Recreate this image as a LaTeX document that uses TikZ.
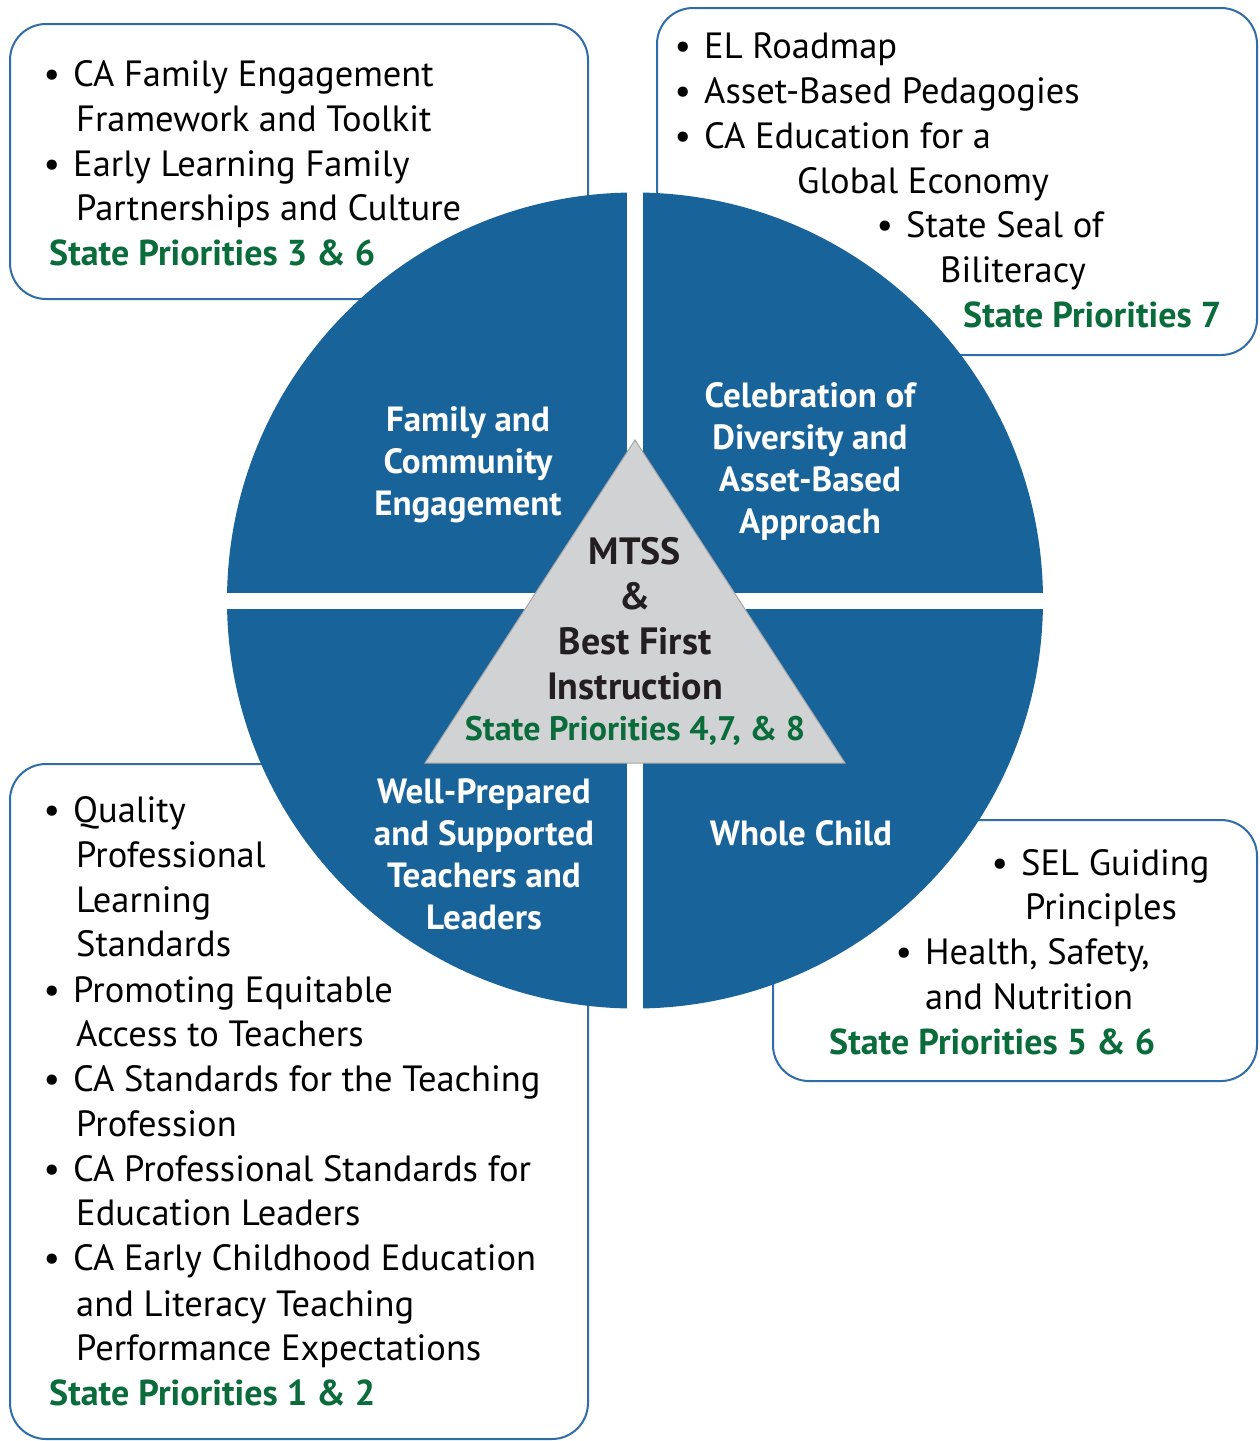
\documentclass[tikz,border=0pt]{standalone}
\usepackage{fontspec}
\setmainfont{PT Sans}
\usetikzlibrary{positioning}

\definecolor{wheelblue}{HTML}{19639B}
\definecolor{boxblue}{HTML}{2F6CA8}
\definecolor{priogreen}{HTML}{0A6B3B}
\definecolor{coregrey}{HTML}{D1D2D4}
\definecolor{coretext}{HTML}{231F20}

\newcommand{\bul}{\llap{\textbullet\hspace{13pt}}}

\tikzset{
    infobox/.style={draw=boxblue, line width=2pt, rounded corners=36pt, fill=white},
    item/.style={anchor=base west, inner sep=0pt, font=\fontsize{36.5}{45}\selectfont},
    prio/.style={item, text=priogreen, font=\fontsize{36}{45}\selectfont\bfseries},
    spoke/.style={align=center, inner sep=0pt, text=white, font=\fontsize{35}{42}\selectfont\bfseries},
}

\begin{document}
\begin{tikzpicture}[x=1pt, y=-1pt]
    \useasboundingbox (0,0) rectangle (1259,1441);

    % boxes behind the wheel
    \draw[infobox] (10,24) rectangle (588,299);
    \draw[infobox] (657,8) rectangle (1257,355);
    \draw[infobox] (10,764) rectangle (588,1439);
    \draw[infobox] (773,820) rectangle (1257,1081);

    % wheel
    \fill[wheelblue] (635,600.5) circle (408);
    \fill[white] (627,190) rectangle (643,1012);
    \fill[white] (225,593) rectangle (1045,609);

    % core triangle
    \draw[fill=coregrey, draw=gray!70, line width=1pt] (635,440) -- (845,763) -- (425,763) -- cycle;

    \node[spoke] (family) at (468,465) {Family and\\Community\\Engagement};
    \node[spoke] (diversity) at (810,461) {Celebration of\\Diversity and\\Asset-Based\\Approach};
    \node[spoke] (teachers) at (484,854) {Well-Prepared\\and Supported\\Teachers and\\Leaders};
    \node[spoke] (child) at (801,833) {Whole Child};

    \node[align=center, inner sep=0pt, text=coretext, font=\fontsize{38}{45}\selectfont\bfseries] (core) at (635,619)
        {MTSS\\\&\\Best First\\Instruction};
    \node[prio, anchor=base, font=\fontsize{34}{45}\selectfont\bfseries] (coreprio) at (635,740) {State Priorities 4,7, \& 8};

    % top left
    \foreach \x/\y/\t [count=\i] in {
        73/86/{\bul CA Family Engagement},
        76/131/{Framework and Toolkit},
        73/176/{\bul Early Learning Family},
        76/220/{Partnerships and Culture}}
        \node[item] (tl-\i) at (\x,\y) {\t};
    \node[prio] (tlprio) at (49,265) {State Priorities 3 \& 6};

    % top right
    \foreach \x/\y/\t [count=\i] in {
        704/58/{\bul EL Roadmap},
        704/103/{\bul Asset-Based Pedagogies},
        704/148/{\bul CA Education for a},
        797/193/{Global Economy},
        906/237/{\bul State Seal of},
        940/282/{Biliteracy}}
        \node[item] (tr-\i) at (\x,\y) {\t};
    \node[prio] (trprio) at (963,327) {State Priorities 7};

    % bottom left
    \foreach \x/\y/\t [count=\i] in {
        73/822/{\bul Quality},
        76/867/{Professional},
        76/912/{Learning},
        76/956/{Standards},
        73/1002/{\bul Promoting Equitable},
        76/1046/{Access to Teachers},
        73/1091/{\bul CA Standards for the Teaching},
        76/1136/{Profession},
        73/1181/{\bul CA Professional Standards for},
        76/1225/{Education Leaders},
        73/1270/{\bul CA Early Childhood Education},
        76/1316/{and Literacy Teaching},
        76/1360/{Performance Expectations}}
        \node[item] (bl-\i) at (\x,\y) {\t};
    \node[prio] (blprio) at (49,1405) {State Priorities 1 \& 2};

    % bottom right
    \foreach \x/\y/\t [count=\i] in {
        1021/875/{\bul SEL Guiding},
        1025/919/{Principles},
        925/964/{\bul Health, Safety,},
        925/1009/{and Nutrition}}
        \node[item] (br-\i) at (\x,\y) {\t};
    \node[prio] (brprio) at (829,1054) {State Priorities 5 \& 6};
\end{tikzpicture}
\end{document}
